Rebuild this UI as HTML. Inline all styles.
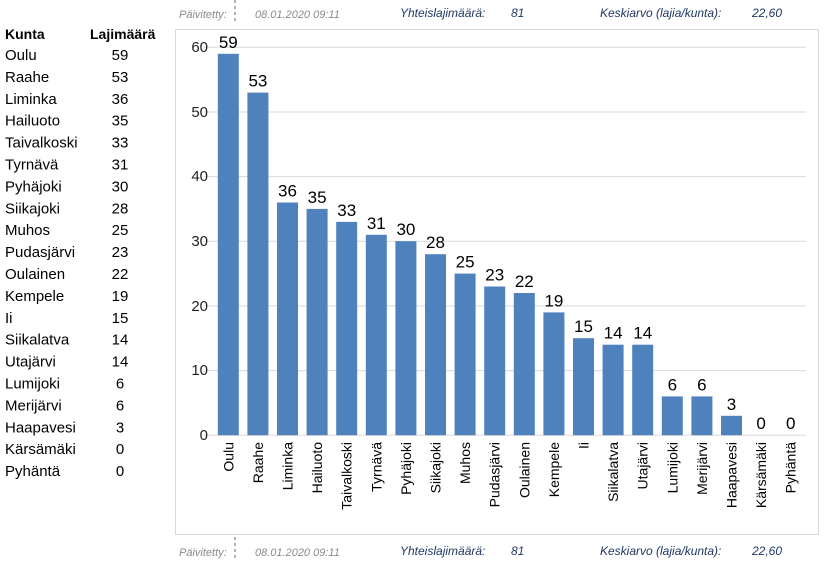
<!DOCTYPE html>
<html><head><meta charset="utf-8"><style>
body{margin:0;background:#fff;width:824px;height:561px;overflow:hidden}
svg{display:block;font-family:"Liberation Sans",sans-serif}
</style></head><body>
<svg width="824" height="561" viewBox="0 0 824 561">
<g font-size="11" font-style="italic" fill="#8a8a8a">
<text x="179" y="18">Päivitetty:</text><text x="255" y="18">08.01.2020 09:11</text>
<text x="179" y="556">Päivitetty:</text><text x="255" y="556">08.01.2020 09:11</text>
</g>
<g font-size="12" font-style="italic" fill="#1f3864">
<text x="400" y="17">Yhteislajimäärä:</text><text x="511" y="17">81</text>
<text x="600" y="17">Keskiarvo (lajia/kunta):</text><text x="752" y="17">22,60</text>
<text x="400" y="555">Yhteislajimäärä:</text><text x="511" y="555">81</text>
<text x="600" y="555">Keskiarvo (lajia/kunta):</text><text x="752" y="555">22,60</text>
</g>
<line x1="235" y1="0" x2="235" y2="24" stroke="#666" stroke-dasharray="3,3"/>
<line x1="235" y1="537" x2="235" y2="561" stroke="#666" stroke-dasharray="3,3"/>
<rect x="175.5" y="29.5" width="643" height="505" fill="#fff" stroke="#d9d9d9"/>
<g stroke="#d9d9d9" stroke-width="1">
<line x1="204" x2="806" y1="47.3" y2="47.3"/><line x1="204" x2="806" y1="112" y2="112"/>
<line x1="204" x2="806" y1="176.6" y2="176.6"/><line x1="204" x2="806" y1="241.3" y2="241.3"/>
<line x1="204" x2="806" y1="305.9" y2="305.9"/><line x1="204" x2="806" y1="370.6" y2="370.6"/>
<line x1="204" x2="806" y1="435.2" y2="435.2"/>
</g>
<g font-size="15" fill="#222" text-anchor="end">
<text x="208" y="52">60</text><text x="208" y="117">50</text><text x="208" y="181">40</text>
<text x="208" y="246">30</text><text x="208" y="311">20</text><text x="208" y="375">10</text><text x="208" y="440">0</text>
</g>
<g fill="#4f81bd">
<rect x="217.8" y="53.8" width="21" height="381.4"/>
<rect x="247.4" y="92.6" width="21" height="342.6"/>
<rect x="277" y="202.5" width="21" height="232.7"/>
<rect x="306.6" y="208.9" width="21" height="226.3"/>
<rect x="336.2" y="221.9" width="21" height="213.3"/>
<rect x="365.8" y="234.8" width="21" height="200.4"/>
<rect x="395.4" y="241.2" width="21" height="194"/>
<rect x="425" y="254.2" width="21" height="181"/>
<rect x="454.6" y="273.6" width="21" height="161.6"/>
<rect x="484.2" y="286.5" width="21" height="148.7"/>
<rect x="513.8" y="293" width="21" height="142.2"/>
<rect x="543.4" y="312.4" width="21" height="122.8"/>
<rect x="573" y="338.2" width="21" height="97"/>
<rect x="602.6" y="344.7" width="21" height="90.5"/>
<rect x="632.2" y="344.7" width="21" height="90.5"/>
<rect x="661.8" y="396.4" width="21" height="38.8"/>
<rect x="691.4" y="396.4" width="21" height="38.8"/>
<rect x="721" y="415.8" width="21" height="19.4"/>
</g>
<g font-size="17" fill="#000" text-anchor="middle">
<text x="228.3" y="47.8">59</text><text x="257.9" y="86.6">53</text><text x="287.5" y="196.5">36</text>
<text x="317.1" y="202.9">35</text><text x="346.7" y="215.9">33</text><text x="376.3" y="228.8">31</text>
<text x="405.9" y="235.2">30</text><text x="435.5" y="248.2">28</text><text x="465.1" y="267.6">25</text>
<text x="494.7" y="280.5">23</text><text x="524.3" y="287">22</text><text x="553.9" y="306.4">19</text>
<text x="583.5" y="332.2">15</text><text x="613.1" y="338.7">14</text><text x="642.7" y="338.7">14</text>
<text x="672.3" y="390.4">6</text><text x="701.9" y="390.4">6</text><text x="731.5" y="409.8">3</text>
<text x="761.1" y="429.2">0</text><text x="790.7" y="429.2">0</text>
</g>
<g font-size="14" fill="#000" text-anchor="end">
<text transform="translate(233.3,442) rotate(-90)">Oulu</text>
<text transform="translate(262.9,442) rotate(-90)">Raahe</text>
<text transform="translate(292.5,442) rotate(-90)">Liminka</text>
<text transform="translate(322.1,442) rotate(-90)">Hailuoto</text>
<text transform="translate(351.7,442) rotate(-90)">Taivalkoski</text>
<text transform="translate(381.3,442) rotate(-90)">Tyrnävä</text>
<text transform="translate(410.9,442) rotate(-90)">Pyhäjoki</text>
<text transform="translate(440.5,442) rotate(-90)">Siikajoki</text>
<text transform="translate(470.1,442) rotate(-90)">Muhos</text>
<text transform="translate(499.7,442) rotate(-90)">Pudasjärvi</text>
<text transform="translate(529.3,442) rotate(-90)">Oulainen</text>
<text transform="translate(558.9,442) rotate(-90)">Kempele</text>
<text transform="translate(588.5,442) rotate(-90)">Ii</text>
<text transform="translate(618.1,442) rotate(-90)">Siikalatva</text>
<text transform="translate(647.7,442) rotate(-90)">Utajärvi</text>
<text transform="translate(677.3,442) rotate(-90)">Lumijoki</text>
<text transform="translate(706.9,442) rotate(-90)">Merijärvi</text>
<text transform="translate(736.5,442) rotate(-90)">Haapavesi</text>
<text transform="translate(766.1,442) rotate(-90)">Kärsämäki</text>
<text transform="translate(795.7,442) rotate(-90)">Pyhäntä</text>
</g>
<text x="5" y="39" font-weight="bold" font-size="14">Kunta</text>
<text x="90" y="39" font-weight="bold" font-size="14">Lajimäärä</text>
<g font-size="15" fill="#000">
<text x="5" y="60">Oulu</text><text x="5" y="81.9">Raahe</text><text x="5" y="103.8">Liminka</text>
<text x="5" y="125.7">Hailuoto</text><text x="5" y="147.6">Taivalkoski</text><text x="5" y="169.5">Tyrnävä</text>
<text x="5" y="191.4">Pyhäjoki</text><text x="5" y="213.3">Siikajoki</text><text x="5" y="235.2">Muhos</text>
<text x="5" y="257.1">Pudasjärvi</text><text x="5" y="279">Oulainen</text><text x="5" y="300.9">Kempele</text>
<text x="5" y="322.8">Ii</text><text x="5" y="344.7">Siikalatva</text><text x="5" y="366.6">Utajärvi</text>
<text x="5" y="388.5">Lumijoki</text><text x="5" y="410.4">Merijärvi</text><text x="5" y="432.3">Haapavesi</text>
<text x="5" y="454.2">Kärsämäki</text><text x="5" y="476.1">Pyhäntä</text>
</g>
<g font-size="15" fill="#000" text-anchor="middle">
<text x="120" y="60">59</text><text x="120" y="81.9">53</text><text x="120" y="103.8">36</text>
<text x="120" y="125.7">35</text><text x="120" y="147.6">33</text><text x="120" y="169.5">31</text>
<text x="120" y="191.4">30</text><text x="120" y="213.3">28</text><text x="120" y="235.2">25</text>
<text x="120" y="257.1">23</text><text x="120" y="279">22</text><text x="120" y="300.9">19</text>
<text x="120" y="322.8">15</text><text x="120" y="344.7">14</text><text x="120" y="366.6">14</text>
<text x="120" y="388.5">6</text><text x="120" y="410.4">6</text><text x="120" y="432.3">3</text>
<text x="120" y="454.2">0</text><text x="120" y="476.1">0</text>
</g>
</svg>
</body></html>
